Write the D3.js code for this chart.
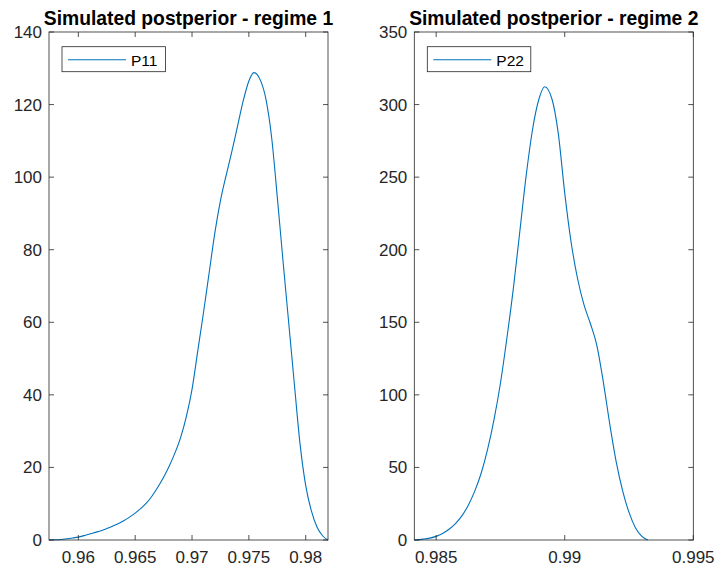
<!DOCTYPE html>
<html>
<head>
<meta charset="utf-8">
<script src="https://cdn.jsdelivr.net/npm/d3@7"></script>
<style>
  html, body { margin: 0; padding: 0; background: #fff; }
  svg { display: block; font-family: "Liberation Sans", Arial, Helvetica, sans-serif; }
</style>
</head>
<body>
<svg id="chart" width="719" height="569"></svg>
<script>
// Kernel density estimate, regime 1 (P11)
const p11X = [0.95742, 0.9580, 0.9585, 0.9590, 0.9595, 0.9600, 0.9605, 0.9610, 0.9615, 0.9620,
  0.9625, 0.9630, 0.9635, 0.9640, 0.9645, 0.9650, 0.9655, 0.9660, 0.9665, 0.9670,
  0.9675, 0.9680, 0.9685, 0.9690, 0.9695, 0.9700, 0.9705, 0.9710, 0.9715, 0.9720,
  0.9725, 0.9730, 0.9735, 0.9740, 0.9745, 0.9750, 0.97544, 0.9760, 0.9765, 0.9770,
  0.9775, 0.9780, 0.9785, 0.9790, 0.9795, 0.9800, 0.9805, 0.9810, 0.9815, 0.98196];
const p11Y = [0, 0.05, 0.15, 0.35, 0.55, 0.8, 1.2, 1.65, 2.1, 2.55,
  3.15, 3.8, 4.5, 5.3, 6.3, 7.4, 8.7, 10.2, 12.2, 14.6,
  17.3, 20.4, 24, 28.3, 34, 41.5, 52, 62.5, 73.5, 84.5,
  93.5, 100.5, 107, 114, 121, 126.5, 128.8, 126.8, 121.5, 111,
  94.5, 77, 60, 43, 26.5, 15, 8, 3.5, 1.1, 0];

// Kernel density estimate, regime 2 (P22)
const p22X = [0.98415, 0.9845, 0.98475, 0.9850, 0.98525, 0.9855, 0.98575, 0.9860, 0.98625, 0.9865,
  0.98675, 0.9870, 0.98725, 0.9875, 0.98775, 0.9880, 0.98825, 0.9885, 0.98875, 0.9890,
  0.98922, 0.9895, 0.98975, 0.9900, 0.99025, 0.9905, 0.99075, 0.9910, 0.99125, 0.9915,
  0.99175, 0.9920, 0.99225, 0.9925, 0.99275, 0.9930, 0.99323];
const p22Y = [0, 0.6, 1.3, 2.5, 4.5, 7.4, 11.3, 16.6, 24, 33.7,
  46, 62.5, 83, 108, 139, 173, 212, 251, 283, 304,
  312.3, 304, 280, 239, 205, 180, 162, 149, 134, 109,
  80, 54, 34, 19, 8.5, 2.5, 0];

const xTicks1 = [0.96, 0.965, 0.97, 0.975, 0.98];
const xTicks2 = [0.985, 0.99, 0.995];
const yTicks1 = [0, 20, 40, 60, 80, 100, 120, 140];
const yTicks2 = [0, 50, 100, 150, 200, 250, 300, 350];

const panels = [
  { title: 'Simulated postperior - regime 1', name: 'P11', xs: p11X, ys: p11Y,
    left: 49, right: 328, xDomain: [0.95742, 0.98196], yMax: 140, xTicks: xTicks1, yTicks: yTicks1 },
  { title: 'Simulated postperior - regime 2', name: 'P22', xs: p22X, ys: p22Y,
    left: 414.3, right: 693.3, xDomain: [0.98415, 0.995], yMax: 350, xTicks: xTicks2, yTicks: yTicks2 }
];

const plotTop = 32, plotBottom = 540;
const axisColor = '#262626';
const lineColor = '#0072BD';
const tickLen = 5;

const svg = d3.select('#chart');

panels.forEach(p => {
  const x = d3.scaleLinear().domain(p.xDomain).range([p.left, p.right]);
  const y = d3.scaleLinear().domain([0, p.yMax]).range([plotBottom, plotTop]);
  const g = svg.append('g');

  // data line
  const pts = p.xs.map((v, i) => [v, p.ys[i]]);
  g.append('path')
    .datum(pts)
    .attr('fill', 'none')
    .attr('stroke', lineColor)
    .attr('stroke-width', 1.1)
    .attr('d', d3.line().x(d => x(d[0])).y(d => y(d[1])).curve(d3.curveMonotoneX));

  // inward ticks on all four sides
  p.xTicks.forEach(t => {
    g.append('line').attr('x1', x(t)).attr('x2', x(t)).attr('y1', plotBottom).attr('y2', plotBottom - tickLen)
      .attr('stroke', axisColor).attr('stroke-width', 0.8);
    g.append('line').attr('x1', x(t)).attr('x2', x(t)).attr('y1', plotTop).attr('y2', plotTop + tickLen)
      .attr('stroke', axisColor).attr('stroke-width', 0.8);
    g.append('text')
      .attr('x', x(t)).attr('y', 563)
      .attr('text-anchor', 'middle')
      .attr('fill', axisColor)
      .style('font-size', '17px')
      .text(d3.format('')(t));
  });
  p.yTicks.forEach(t => {
    g.append('line').attr('x1', p.left).attr('x2', p.left + tickLen).attr('y1', y(t)).attr('y2', y(t))
      .attr('stroke', axisColor).attr('stroke-width', 0.8);
    g.append('line').attr('x1', p.right).attr('x2', p.right - tickLen).attr('y1', y(t)).attr('y2', y(t))
      .attr('stroke', axisColor).attr('stroke-width', 0.8);
    g.append('text')
      .attr('x', p.left - 7).attr('y', y(t) + 6)
      .attr('text-anchor', 'end')
      .attr('fill', axisColor)
      .style('font-size', '17px')
      .text(t);
  });

  // axes box
  g.append('rect')
    .attr('x', p.left).attr('y', plotTop)
    .attr('width', p.right - p.left).attr('height', plotBottom - plotTop)
    .attr('fill', 'none')
    .attr('stroke', axisColor)
    .attr('stroke-width', 0.8);

  // title
  g.append('text')
    .attr('x', (p.left + p.right) / 2).attr('y', 25)
    .attr('text-anchor', 'middle')
    .attr('fill', '#000')
    .style('font-size', '19.3px')
    .style('font-weight', 'bold')
    .text(p.title);

  // legend
  const lx = p.left + 13, ly = 46.7;
  g.append('rect')
    .attr('x', lx).attr('y', ly).attr('width', 103.5).attr('height', 25)
    .attr('fill', '#fff')
    .attr('stroke', axisColor)
    .attr('stroke-width', 0.8);
  g.append('line')
    .attr('x1', lx + 6).attr('x2', lx + 64).attr('y1', ly + 13).attr('y2', ly + 13)
    .attr('stroke', lineColor).attr('stroke-width', 1.1);
  g.append('text')
    .attr('x', lx + 69).attr('y', ly + 19)
    .attr('fill', '#000')
    .style('font-size', '15.5px')
    .text(p.name);
});
</script>
</body>
</html>
